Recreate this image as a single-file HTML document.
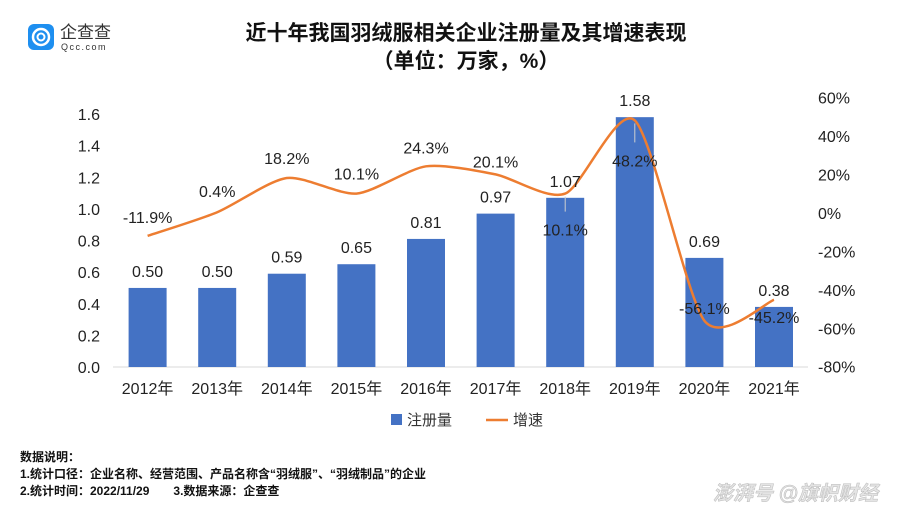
<!DOCTYPE html>
<html><head><meta charset="utf-8">
<style>
body{margin:0;background:#fff;width:918px;height:516px;overflow:hidden;font-family:"Liberation Sans","Noto Sans CJK SC",sans-serif;}
svg{display:block}
text{font-family:"Liberation Sans","Noto Sans CJK SC",sans-serif;}
</style></head>
<body>
<svg id="chart" width="918" height="516">
  <g>
    <rect x="28" y="24" width="26" height="26" rx="6" fill="#1e8ff0"/>
    <circle cx="41" cy="37" r="8" fill="none" stroke="#fff" stroke-width="2.5"/>
    <circle cx="41" cy="37" r="3.5" fill="none" stroke="#fff" stroke-width="2"/>
    <text x="60" y="38" font-size="17" fill="#333">企查查</text>
    <text x="61" y="50" font-size="9" fill="#333" letter-spacing="1.5">Qcc.com</text>
  </g>
  <text x="466" y="40" font-size="21" font-weight="bold" text-anchor="middle" fill="#111">近十年我国羽绒服相关企业注册量及其增速表现</text>
  <text x="466" y="68" font-size="21" font-weight="bold" text-anchor="middle" fill="#111">（单位：万家，%）</text>
  <line x1="113" y1="367" x2="808" y2="367" stroke="#d9d9d9" stroke-width="1"/>
  <g id="bars"></g><g id="line"></g><g id="labels"></g><g id="axes"></g>
  <g>
    <rect x="391" y="414" width="11" height="11" fill="#4472c4"/>
    <text x="407" y="425" font-size="15" fill="#333">注册量</text>
    <line x1="486" y1="420" x2="508" y2="420" stroke="#ed7d31" stroke-width="2.5"/>
    <text x="513" y="425" font-size="15" fill="#333">增速</text>
  </g>
  <g font-size="12" font-weight="bold" fill="#111">
    <text x="20" y="461">数据说明：</text>
    <text x="20" y="478">1.统计口径：企业名称、经营范围、产品名称含“羽绒服”、“羽绒制品”的企业</text>
    <text x="20" y="495">2.统计时间：2022/11/29　　3.数据来源：企查查</text>
  </g>
  <text x="713" y="500" font-size="20" font-style="italic" font-weight="bold" fill="#e4e4e4" stroke="#bbb" stroke-width="0.5">澎湃号 @旗帜财经</text>
</svg>
<script>
const categories=["2012年","2013年","2014年","2015年","2016年","2017年","2018年","2019年","2020年","2021年"];
const registrations=[0.50,0.50,0.59,0.65,0.81,0.97,1.07,1.58,0.69,0.38];
const growth=[-11.9,0.4,18.2,10.1,24.3,20.1,10.1,48.2,-56.1,-45.2];
const leftTicks=[0,0.2,0.4,0.6,0.8,1.0,1.2,1.4,1.6];
const rightTicks=[-80,-60,-40,-20,0,20,40,60];
// label placement offsets (layout only)
const growthLabelDy=[-19,-21,-20,-20,-19,-13,36,40,-13,17];

const NS="http://www.w3.org/2000/svg";
const x0=147.6, step=69.6, barW=38;
const xs=i=>x0+i*step;
const yL=v=>367-v*(253/1.6);
const yR=p=>213-p*1.921;
function mk(tag,attrs,parent,txt){const e=document.createElementNS(NS,tag);for(const k in attrs)e.setAttribute(k,attrs[k]);if(txt!==undefined)e.textContent=txt;parent.appendChild(e);return e;}
const gB=document.getElementById('bars'),gL=document.getElementById('line'),gT=document.getElementById('labels'),gA=document.getElementById('axes');

leftTicks.forEach(t=>{const e=mk('text',{x:100,y:yL(t)+6,'font-size':16,'text-anchor':'end',fill:'#222'},gA,t.toFixed(1));

});
rightTicks.forEach(t=>{const e=mk('text',{x:818,y:yR(t)+6,'font-size':16,fill:'#222'},gA,t+'%');

});
categories.forEach((c,i)=>{const e=mk('text',{x:xs(i),y:394,'font-size':16,'text-anchor':'middle',fill:'#222'},gA,c);

});

registrations.forEach((v,i)=>{
  const r=mk('rect',{x:xs(i)-barW/2,y:yL(v),width:barW,height:367-yL(v),fill:'#4472c4'},gB);
  
  
  const t=mk('text',{x:xs(i),y:yL(v)-11,'font-size':16,'text-anchor':'middle',fill:'#222'},gT,v.toFixed(2));
  
  
});

const pts=growth.map((g,i)=>[xs(i),yR(g)]);
let d='M'+pts[0][0]+','+pts[0][1];
const k=8;
for(let i=0;i<pts.length-1;i++){
  const p0=pts[Math.max(0,i-1)],p1=pts[i],p2=pts[i+1],p3=pts[Math.min(pts.length-1,i+2)];
  const c1=[p1[0]+(p2[0]-p0[0])/k,p1[1]+(p2[1]-p0[1])/k],c2=[p2[0]-(p3[0]-p1[0])/k,p2[1]-(p3[1]-p1[1])/k];
  d+=` C${c1[0]},${c1[1]} ${c2[0]},${c2[1]} ${p2[0]},${p2[1]}`;
}
const path=mk('path',{d:d,fill:'none',stroke:'#ed7d31','stroke-width':2.5},gL);



growth.forEach((g,i)=>{
  const dy=growthLabelDy[i];
  if(dy>25){const l=mk('line',{x1:xs(i),y1:yR(g)+3,x2:xs(i),y2:yR(g)+dy-18,stroke:'#cfcfcf','stroke-width':1},gT);
    
    }
  const t=mk('text',{x:xs(i),y:yR(g)+dy+6,'font-size':16,'text-anchor':'middle',fill:'#222'},gT,g.toFixed(1)+'%');
  
  
});
</script>
</body></html>
